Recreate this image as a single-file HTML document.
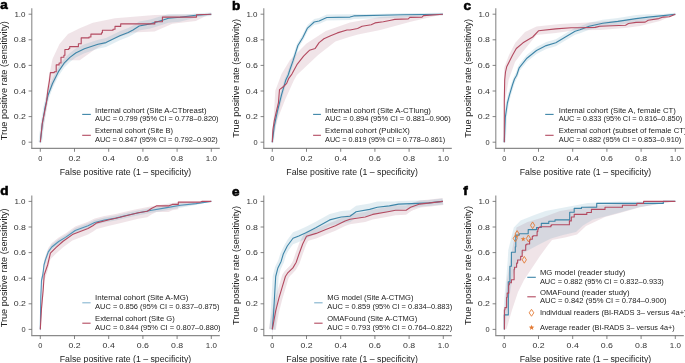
<!DOCTYPE html>
<html><head><meta charset="utf-8"><style>
html,body{margin:0;padding:0;background:#fff;width:685px;height:363px;overflow:hidden}
svg{display:block;will-change:transform}
text{font-family:"Liberation Sans",sans-serif;fill:#222}
.tk{font-size:7.4px;fill:#333}
.al{font-size:9.2px;fill:#222}
.lg{font-size:7.4px;fill:#222}
.pl{font-size:12px;font-weight:bold;fill:#000;stroke:#000;stroke-width:0.55px}
</style></head><body>
<svg width="685" height="363" viewBox="0 0 685 363">
<rect width="685" height="363" fill="#fff"/>
<line x1="31.80" y1="8.20" x2="31.80" y2="148.40" stroke="#8a8a8a" stroke-width="1.1"/>
<line x1="31.25" y1="148.40" x2="219.80" y2="148.40" stroke="#8a8a8a" stroke-width="1.1"/>
<line x1="28.60" y1="142.20" x2="31.80" y2="142.20" stroke="#666" stroke-width="0.8"/>
<text x="25.50" y="144.80" text-anchor="end" class="tk">0</text>
<line x1="40.30" y1="148.40" x2="40.30" y2="151.80" stroke="#666" stroke-width="0.8"/>
<text x="40.30" y="160.60" text-anchor="middle" class="tk">0</text>
<line x1="28.60" y1="116.60" x2="31.80" y2="116.60" stroke="#666" stroke-width="0.8"/>
<text x="26.00" y="119.20" text-anchor="end" class="tk" textLength="12.2" lengthAdjust="spacingAndGlyphs">0.2</text>
<line x1="74.50" y1="148.40" x2="74.50" y2="151.80" stroke="#666" stroke-width="0.8"/>
<text x="74.50" y="160.60" text-anchor="middle" class="tk" textLength="12.2" lengthAdjust="spacingAndGlyphs">0.2</text>
<line x1="28.60" y1="91.00" x2="31.80" y2="91.00" stroke="#666" stroke-width="0.8"/>
<text x="26.00" y="93.60" text-anchor="end" class="tk" textLength="12.2" lengthAdjust="spacingAndGlyphs">0.4</text>
<line x1="108.70" y1="148.40" x2="108.70" y2="151.80" stroke="#666" stroke-width="0.8"/>
<text x="108.70" y="160.60" text-anchor="middle" class="tk" textLength="12.2" lengthAdjust="spacingAndGlyphs">0.4</text>
<line x1="28.60" y1="65.40" x2="31.80" y2="65.40" stroke="#666" stroke-width="0.8"/>
<text x="26.00" y="68.00" text-anchor="end" class="tk" textLength="12.2" lengthAdjust="spacingAndGlyphs">0.6</text>
<line x1="142.90" y1="148.40" x2="142.90" y2="151.80" stroke="#666" stroke-width="0.8"/>
<text x="142.90" y="160.60" text-anchor="middle" class="tk" textLength="12.2" lengthAdjust="spacingAndGlyphs">0.6</text>
<line x1="28.60" y1="39.80" x2="31.80" y2="39.80" stroke="#666" stroke-width="0.8"/>
<text x="26.00" y="42.40" text-anchor="end" class="tk" textLength="12.2" lengthAdjust="spacingAndGlyphs">0.8</text>
<line x1="177.10" y1="148.40" x2="177.10" y2="151.80" stroke="#666" stroke-width="0.8"/>
<text x="177.10" y="160.60" text-anchor="middle" class="tk" textLength="12.2" lengthAdjust="spacingAndGlyphs">0.8</text>
<line x1="28.60" y1="14.20" x2="31.80" y2="14.20" stroke="#666" stroke-width="0.8"/>
<text x="25.50" y="16.80" text-anchor="end" class="tk" textLength="11.1" lengthAdjust="spacingAndGlyphs">1.0</text>
<line x1="211.30" y1="148.40" x2="211.30" y2="151.80" stroke="#666" stroke-width="0.8"/>
<text x="211.30" y="160.60" text-anchor="middle" class="tk" textLength="11.1" lengthAdjust="spacingAndGlyphs">1.0</text>
<text x="125.50" y="174.80" text-anchor="middle" class="al" textLength="131.5" lengthAdjust="spacingAndGlyphs">False positive rate (1 – specificity)</text>
<text transform="translate(6.80,80.65) rotate(-90)" x="0" y="0" text-anchor="middle" class="al" textLength="119" lengthAdjust="spacingAndGlyphs">True positive rate (sensitivity)</text>
<line x1="31.80" y1="195.40" x2="31.80" y2="335.60" stroke="#8a8a8a" stroke-width="1.1"/>
<line x1="31.25" y1="335.60" x2="219.80" y2="335.60" stroke="#8a8a8a" stroke-width="1.1"/>
<line x1="28.60" y1="329.40" x2="31.80" y2="329.40" stroke="#666" stroke-width="0.8"/>
<text x="25.50" y="332.00" text-anchor="end" class="tk">0</text>
<line x1="40.30" y1="335.60" x2="40.30" y2="339.00" stroke="#666" stroke-width="0.8"/>
<text x="40.30" y="347.80" text-anchor="middle" class="tk">0</text>
<line x1="28.60" y1="303.80" x2="31.80" y2="303.80" stroke="#666" stroke-width="0.8"/>
<text x="26.00" y="306.40" text-anchor="end" class="tk" textLength="12.2" lengthAdjust="spacingAndGlyphs">0.2</text>
<line x1="74.50" y1="335.60" x2="74.50" y2="339.00" stroke="#666" stroke-width="0.8"/>
<text x="74.50" y="347.80" text-anchor="middle" class="tk" textLength="12.2" lengthAdjust="spacingAndGlyphs">0.2</text>
<line x1="28.60" y1="278.20" x2="31.80" y2="278.20" stroke="#666" stroke-width="0.8"/>
<text x="26.00" y="280.80" text-anchor="end" class="tk" textLength="12.2" lengthAdjust="spacingAndGlyphs">0.4</text>
<line x1="108.70" y1="335.60" x2="108.70" y2="339.00" stroke="#666" stroke-width="0.8"/>
<text x="108.70" y="347.80" text-anchor="middle" class="tk" textLength="12.2" lengthAdjust="spacingAndGlyphs">0.4</text>
<line x1="28.60" y1="252.60" x2="31.80" y2="252.60" stroke="#666" stroke-width="0.8"/>
<text x="26.00" y="255.20" text-anchor="end" class="tk" textLength="12.2" lengthAdjust="spacingAndGlyphs">0.6</text>
<line x1="142.90" y1="335.60" x2="142.90" y2="339.00" stroke="#666" stroke-width="0.8"/>
<text x="142.90" y="347.80" text-anchor="middle" class="tk" textLength="12.2" lengthAdjust="spacingAndGlyphs">0.6</text>
<line x1="28.60" y1="227.00" x2="31.80" y2="227.00" stroke="#666" stroke-width="0.8"/>
<text x="26.00" y="229.60" text-anchor="end" class="tk" textLength="12.2" lengthAdjust="spacingAndGlyphs">0.8</text>
<line x1="177.10" y1="335.60" x2="177.10" y2="339.00" stroke="#666" stroke-width="0.8"/>
<text x="177.10" y="347.80" text-anchor="middle" class="tk" textLength="12.2" lengthAdjust="spacingAndGlyphs">0.8</text>
<line x1="28.60" y1="201.40" x2="31.80" y2="201.40" stroke="#666" stroke-width="0.8"/>
<text x="25.50" y="204.00" text-anchor="end" class="tk" textLength="11.1" lengthAdjust="spacingAndGlyphs">1.0</text>
<line x1="211.30" y1="335.60" x2="211.30" y2="339.00" stroke="#666" stroke-width="0.8"/>
<text x="211.30" y="347.80" text-anchor="middle" class="tk" textLength="11.1" lengthAdjust="spacingAndGlyphs">1.0</text>
<text x="125.50" y="362.00" text-anchor="middle" class="al" textLength="131.5" lengthAdjust="spacingAndGlyphs">False positive rate (1 – specificity)</text>
<text transform="translate(6.80,267.85) rotate(-90)" x="0" y="0" text-anchor="middle" class="al" textLength="119" lengthAdjust="spacingAndGlyphs">True positive rate (sensitivity)</text>
<line x1="263.80" y1="8.20" x2="263.80" y2="148.40" stroke="#8a8a8a" stroke-width="1.1"/>
<line x1="263.25" y1="148.40" x2="451.80" y2="148.40" stroke="#8a8a8a" stroke-width="1.1"/>
<line x1="260.60" y1="142.20" x2="263.80" y2="142.20" stroke="#666" stroke-width="0.8"/>
<text x="257.50" y="144.80" text-anchor="end" class="tk">0</text>
<line x1="272.30" y1="148.40" x2="272.30" y2="151.80" stroke="#666" stroke-width="0.8"/>
<text x="272.30" y="160.60" text-anchor="middle" class="tk">0</text>
<line x1="260.60" y1="116.60" x2="263.80" y2="116.60" stroke="#666" stroke-width="0.8"/>
<text x="258.00" y="119.20" text-anchor="end" class="tk" textLength="12.2" lengthAdjust="spacingAndGlyphs">0.2</text>
<line x1="306.50" y1="148.40" x2="306.50" y2="151.80" stroke="#666" stroke-width="0.8"/>
<text x="306.50" y="160.60" text-anchor="middle" class="tk" textLength="12.2" lengthAdjust="spacingAndGlyphs">0.2</text>
<line x1="260.60" y1="91.00" x2="263.80" y2="91.00" stroke="#666" stroke-width="0.8"/>
<text x="258.00" y="93.60" text-anchor="end" class="tk" textLength="12.2" lengthAdjust="spacingAndGlyphs">0.4</text>
<line x1="340.70" y1="148.40" x2="340.70" y2="151.80" stroke="#666" stroke-width="0.8"/>
<text x="340.70" y="160.60" text-anchor="middle" class="tk" textLength="12.2" lengthAdjust="spacingAndGlyphs">0.4</text>
<line x1="260.60" y1="65.40" x2="263.80" y2="65.40" stroke="#666" stroke-width="0.8"/>
<text x="258.00" y="68.00" text-anchor="end" class="tk" textLength="12.2" lengthAdjust="spacingAndGlyphs">0.6</text>
<line x1="374.90" y1="148.40" x2="374.90" y2="151.80" stroke="#666" stroke-width="0.8"/>
<text x="374.90" y="160.60" text-anchor="middle" class="tk" textLength="12.2" lengthAdjust="spacingAndGlyphs">0.6</text>
<line x1="260.60" y1="39.80" x2="263.80" y2="39.80" stroke="#666" stroke-width="0.8"/>
<text x="258.00" y="42.40" text-anchor="end" class="tk" textLength="12.2" lengthAdjust="spacingAndGlyphs">0.8</text>
<line x1="409.10" y1="148.40" x2="409.10" y2="151.80" stroke="#666" stroke-width="0.8"/>
<text x="409.10" y="160.60" text-anchor="middle" class="tk" textLength="12.2" lengthAdjust="spacingAndGlyphs">0.8</text>
<line x1="260.60" y1="14.20" x2="263.80" y2="14.20" stroke="#666" stroke-width="0.8"/>
<text x="257.50" y="16.80" text-anchor="end" class="tk" textLength="11.1" lengthAdjust="spacingAndGlyphs">1.0</text>
<line x1="443.30" y1="148.40" x2="443.30" y2="151.80" stroke="#666" stroke-width="0.8"/>
<text x="443.30" y="160.60" text-anchor="middle" class="tk" textLength="11.1" lengthAdjust="spacingAndGlyphs">1.0</text>
<text x="352.05" y="174.80" text-anchor="middle" class="al" textLength="131.5" lengthAdjust="spacingAndGlyphs">False positive rate (1 – specificity)</text>
<text transform="translate(239.00,78.35) rotate(-90)" x="0" y="0" text-anchor="middle" class="al" textLength="119" lengthAdjust="spacingAndGlyphs">True positive rate (sensitivity)</text>
<line x1="263.80" y1="195.40" x2="263.80" y2="335.60" stroke="#8a8a8a" stroke-width="1.1"/>
<line x1="263.25" y1="335.60" x2="451.80" y2="335.60" stroke="#8a8a8a" stroke-width="1.1"/>
<line x1="260.60" y1="329.40" x2="263.80" y2="329.40" stroke="#666" stroke-width="0.8"/>
<text x="257.50" y="332.00" text-anchor="end" class="tk">0</text>
<line x1="272.30" y1="335.60" x2="272.30" y2="339.00" stroke="#666" stroke-width="0.8"/>
<text x="272.30" y="347.80" text-anchor="middle" class="tk">0</text>
<line x1="260.60" y1="303.80" x2="263.80" y2="303.80" stroke="#666" stroke-width="0.8"/>
<text x="258.00" y="306.40" text-anchor="end" class="tk" textLength="12.2" lengthAdjust="spacingAndGlyphs">0.2</text>
<line x1="306.50" y1="335.60" x2="306.50" y2="339.00" stroke="#666" stroke-width="0.8"/>
<text x="306.50" y="347.80" text-anchor="middle" class="tk" textLength="12.2" lengthAdjust="spacingAndGlyphs">0.2</text>
<line x1="260.60" y1="278.20" x2="263.80" y2="278.20" stroke="#666" stroke-width="0.8"/>
<text x="258.00" y="280.80" text-anchor="end" class="tk" textLength="12.2" lengthAdjust="spacingAndGlyphs">0.4</text>
<line x1="340.70" y1="335.60" x2="340.70" y2="339.00" stroke="#666" stroke-width="0.8"/>
<text x="340.70" y="347.80" text-anchor="middle" class="tk" textLength="12.2" lengthAdjust="spacingAndGlyphs">0.4</text>
<line x1="260.60" y1="252.60" x2="263.80" y2="252.60" stroke="#666" stroke-width="0.8"/>
<text x="258.00" y="255.20" text-anchor="end" class="tk" textLength="12.2" lengthAdjust="spacingAndGlyphs">0.6</text>
<line x1="374.90" y1="335.60" x2="374.90" y2="339.00" stroke="#666" stroke-width="0.8"/>
<text x="374.90" y="347.80" text-anchor="middle" class="tk" textLength="12.2" lengthAdjust="spacingAndGlyphs">0.6</text>
<line x1="260.60" y1="227.00" x2="263.80" y2="227.00" stroke="#666" stroke-width="0.8"/>
<text x="258.00" y="229.60" text-anchor="end" class="tk" textLength="12.2" lengthAdjust="spacingAndGlyphs">0.8</text>
<line x1="409.10" y1="335.60" x2="409.10" y2="339.00" stroke="#666" stroke-width="0.8"/>
<text x="409.10" y="347.80" text-anchor="middle" class="tk" textLength="12.2" lengthAdjust="spacingAndGlyphs">0.8</text>
<line x1="260.60" y1="201.40" x2="263.80" y2="201.40" stroke="#666" stroke-width="0.8"/>
<text x="257.50" y="204.00" text-anchor="end" class="tk" textLength="11.1" lengthAdjust="spacingAndGlyphs">1.0</text>
<line x1="443.30" y1="335.60" x2="443.30" y2="339.00" stroke="#666" stroke-width="0.8"/>
<text x="443.30" y="347.80" text-anchor="middle" class="tk" textLength="11.1" lengthAdjust="spacingAndGlyphs">1.0</text>
<text x="352.05" y="362.00" text-anchor="middle" class="al" textLength="131.5" lengthAdjust="spacingAndGlyphs">False positive rate (1 – specificity)</text>
<text transform="translate(239.00,265.55) rotate(-90)" x="0" y="0" text-anchor="middle" class="al" textLength="119" lengthAdjust="spacingAndGlyphs">True positive rate (sensitivity)</text>
<line x1="495.80" y1="8.20" x2="495.80" y2="148.40" stroke="#8a8a8a" stroke-width="1.1"/>
<line x1="495.25" y1="148.40" x2="683.80" y2="148.40" stroke="#8a8a8a" stroke-width="1.1"/>
<line x1="492.60" y1="142.20" x2="495.80" y2="142.20" stroke="#666" stroke-width="0.8"/>
<text x="489.50" y="144.80" text-anchor="end" class="tk">0</text>
<line x1="504.30" y1="148.40" x2="504.30" y2="151.80" stroke="#666" stroke-width="0.8"/>
<text x="504.30" y="160.60" text-anchor="middle" class="tk">0</text>
<line x1="492.60" y1="116.60" x2="495.80" y2="116.60" stroke="#666" stroke-width="0.8"/>
<text x="490.00" y="119.20" text-anchor="end" class="tk" textLength="12.2" lengthAdjust="spacingAndGlyphs">0.2</text>
<line x1="538.50" y1="148.40" x2="538.50" y2="151.80" stroke="#666" stroke-width="0.8"/>
<text x="538.50" y="160.60" text-anchor="middle" class="tk" textLength="12.2" lengthAdjust="spacingAndGlyphs">0.2</text>
<line x1="492.60" y1="91.00" x2="495.80" y2="91.00" stroke="#666" stroke-width="0.8"/>
<text x="490.00" y="93.60" text-anchor="end" class="tk" textLength="12.2" lengthAdjust="spacingAndGlyphs">0.4</text>
<line x1="572.70" y1="148.40" x2="572.70" y2="151.80" stroke="#666" stroke-width="0.8"/>
<text x="572.70" y="160.60" text-anchor="middle" class="tk" textLength="12.2" lengthAdjust="spacingAndGlyphs">0.4</text>
<line x1="492.60" y1="65.40" x2="495.80" y2="65.40" stroke="#666" stroke-width="0.8"/>
<text x="490.00" y="68.00" text-anchor="end" class="tk" textLength="12.2" lengthAdjust="spacingAndGlyphs">0.6</text>
<line x1="606.90" y1="148.40" x2="606.90" y2="151.80" stroke="#666" stroke-width="0.8"/>
<text x="606.90" y="160.60" text-anchor="middle" class="tk" textLength="12.2" lengthAdjust="spacingAndGlyphs">0.6</text>
<line x1="492.60" y1="39.80" x2="495.80" y2="39.80" stroke="#666" stroke-width="0.8"/>
<text x="490.00" y="42.40" text-anchor="end" class="tk" textLength="12.2" lengthAdjust="spacingAndGlyphs">0.8</text>
<line x1="641.10" y1="148.40" x2="641.10" y2="151.80" stroke="#666" stroke-width="0.8"/>
<text x="641.10" y="160.60" text-anchor="middle" class="tk" textLength="12.2" lengthAdjust="spacingAndGlyphs">0.8</text>
<line x1="492.60" y1="14.20" x2="495.80" y2="14.20" stroke="#666" stroke-width="0.8"/>
<text x="489.50" y="16.80" text-anchor="end" class="tk" textLength="11.1" lengthAdjust="spacingAndGlyphs">1.0</text>
<line x1="675.30" y1="148.40" x2="675.30" y2="151.80" stroke="#666" stroke-width="0.8"/>
<text x="675.30" y="160.60" text-anchor="middle" class="tk" textLength="11.1" lengthAdjust="spacingAndGlyphs">1.0</text>
<text x="585.45" y="174.80" text-anchor="middle" class="al" textLength="131.5" lengthAdjust="spacingAndGlyphs">False positive rate (1 – specificity)</text>
<text transform="translate(471.00,78.35) rotate(-90)" x="0" y="0" text-anchor="middle" class="al" textLength="119" lengthAdjust="spacingAndGlyphs">True positive rate (sensitivity)</text>
<line x1="495.80" y1="195.40" x2="495.80" y2="335.60" stroke="#8a8a8a" stroke-width="1.1"/>
<line x1="495.25" y1="335.60" x2="683.80" y2="335.60" stroke="#8a8a8a" stroke-width="1.1"/>
<line x1="492.60" y1="329.40" x2="495.80" y2="329.40" stroke="#666" stroke-width="0.8"/>
<text x="489.50" y="332.00" text-anchor="end" class="tk">0</text>
<line x1="504.30" y1="335.60" x2="504.30" y2="339.00" stroke="#666" stroke-width="0.8"/>
<text x="504.30" y="347.80" text-anchor="middle" class="tk">0</text>
<line x1="492.60" y1="303.80" x2="495.80" y2="303.80" stroke="#666" stroke-width="0.8"/>
<text x="490.00" y="306.40" text-anchor="end" class="tk" textLength="12.2" lengthAdjust="spacingAndGlyphs">0.2</text>
<line x1="538.50" y1="335.60" x2="538.50" y2="339.00" stroke="#666" stroke-width="0.8"/>
<text x="538.50" y="347.80" text-anchor="middle" class="tk" textLength="12.2" lengthAdjust="spacingAndGlyphs">0.2</text>
<line x1="492.60" y1="278.20" x2="495.80" y2="278.20" stroke="#666" stroke-width="0.8"/>
<text x="490.00" y="280.80" text-anchor="end" class="tk" textLength="12.2" lengthAdjust="spacingAndGlyphs">0.4</text>
<line x1="572.70" y1="335.60" x2="572.70" y2="339.00" stroke="#666" stroke-width="0.8"/>
<text x="572.70" y="347.80" text-anchor="middle" class="tk" textLength="12.2" lengthAdjust="spacingAndGlyphs">0.4</text>
<line x1="492.60" y1="252.60" x2="495.80" y2="252.60" stroke="#666" stroke-width="0.8"/>
<text x="490.00" y="255.20" text-anchor="end" class="tk" textLength="12.2" lengthAdjust="spacingAndGlyphs">0.6</text>
<line x1="606.90" y1="335.60" x2="606.90" y2="339.00" stroke="#666" stroke-width="0.8"/>
<text x="606.90" y="347.80" text-anchor="middle" class="tk" textLength="12.2" lengthAdjust="spacingAndGlyphs">0.6</text>
<line x1="492.60" y1="227.00" x2="495.80" y2="227.00" stroke="#666" stroke-width="0.8"/>
<text x="490.00" y="229.60" text-anchor="end" class="tk" textLength="12.2" lengthAdjust="spacingAndGlyphs">0.8</text>
<line x1="641.10" y1="335.60" x2="641.10" y2="339.00" stroke="#666" stroke-width="0.8"/>
<text x="641.10" y="347.80" text-anchor="middle" class="tk" textLength="12.2" lengthAdjust="spacingAndGlyphs">0.8</text>
<line x1="492.60" y1="201.40" x2="495.80" y2="201.40" stroke="#666" stroke-width="0.8"/>
<text x="489.50" y="204.00" text-anchor="end" class="tk" textLength="11.1" lengthAdjust="spacingAndGlyphs">1.0</text>
<line x1="675.30" y1="335.60" x2="675.30" y2="339.00" stroke="#666" stroke-width="0.8"/>
<text x="675.30" y="347.80" text-anchor="middle" class="tk" textLength="11.1" lengthAdjust="spacingAndGlyphs">1.0</text>
<text x="585.45" y="362.00" text-anchor="middle" class="al" textLength="131.5" lengthAdjust="spacingAndGlyphs">False positive rate (1 – specificity)</text>
<text transform="translate(471.00,265.55) rotate(-90)" x="0" y="0" text-anchor="middle" class="al" textLength="119" lengthAdjust="spacingAndGlyphs">True positive rate (sensitivity)</text>
<polygon points="40.3,142.3 43.0,122.0 45.8,98.0 48.5,79.0 52.5,59.0 59.5,44.0 68.0,34.0 79.7,28.2 92.9,22.7 115.0,18.3 154.6,15.0 180.0,14.5 211.3,14.3 211.3,14.3 204.8,16.4 195.8,20.9 172.3,23.8 154.6,31.5 132.6,32.6 112.8,39.3 95.1,49.2 79.7,60.2 68.7,60.2 59.8,70.1 48.8,95.0 44.0,125.0 40.3,142.3" fill="rgba(170,105,128,0.18)" fill-opacity="1.0" stroke="none"/>
<g opacity="0.16">
<polygon points="40.3,137.8 42.3,119.5 45.2,102.2 48.1,90.6 52.5,79.0 58.3,67.4 64.1,58.7 69.9,52.9 75.7,48.5 84.4,44.2 98.0,39.8 106.0,38.1 112.1,35.0 119.8,31.3 128.2,28.1 133.0,25.5 139.2,21.5 150.3,19.4 162.4,15.7 168.5,14.3 180.0,14.3 195.8,14.3 211.3,14.3 211.3,14.3 195.8,17.6 180.0,21.7 168.5,22.8 162.4,24.7 150.3,28.4 139.2,30.5 133.0,34.5 128.2,37.1 119.8,40.3 112.1,44.0 106.0,47.1 98.0,48.8 84.4,53.2 75.7,57.5 69.9,61.9 64.1,67.7 58.3,76.4 52.5,88.0 48.1,99.6 45.2,111.2 42.3,128.5 40.3,146.8" fill="rgb(80,150,180)" fill-opacity="1.0" stroke="none"/>
<polyline points="40.3,142.3 42.3,124.0 45.2,106.7 48.1,95.1 52.5,83.5 58.3,71.9 64.1,63.2 69.9,57.4 75.7,53.0 84.4,48.7 98.0,44.3 106.0,42.6 112.1,39.5 119.8,35.8 128.2,32.6 133.0,30.0 139.2,26.0 150.3,23.9 162.4,20.2 168.5,18.3 180.0,17.2 195.8,15.3 211.3,14.3" fill="none" stroke="rgb(80,150,180)" stroke-width="3.5" stroke-linejoin="round" stroke-linecap="butt"/>
</g>
<polyline points="40.3,142.3 42.3,124.0 45.2,106.7 48.1,95.1 52.5,83.5 58.3,71.9 64.1,63.2 69.9,57.4 75.7,53.0 84.4,48.7 98.0,44.3 106.0,42.6 112.1,39.5 119.8,35.8 128.2,32.6 133.0,30.0 139.2,26.0 150.3,23.9 162.4,20.2 168.5,18.3 180.0,17.2 195.8,15.3 211.3,14.3" fill="none" stroke="#3d85a8" stroke-width="1.1" stroke-linejoin="round"/>
<polyline points="40.3,142.3 42.2,123.7 44.3,113.4 46.4,103.0 47.8,90.7 49.5,80.3 50.4,72.6 54.3,72.6 54.3,71.7 56.2,71.7 56.2,64.9 59.1,64.9 59.1,63.0 61.0,63.0 61.0,57.2 63.9,57.2 63.9,55.3 64.9,55.3 64.9,49.5 68.7,49.5 68.7,48.5 69.7,48.5 69.7,46.6 78.4,46.6 78.4,43.7 81.2,43.7 81.2,37.9 89.0,37.9 89.0,37.0 90.9,37.0 90.9,34.1 101.5,34.1 101.5,32.7 102.4,32.7 102.4,30.2 113.0,30.2 113.0,29.3 115.0,29.3 115.0,26.4 120.7,26.4 120.7,23.9 154.8,23.9 154.8,21.7 162.4,21.7 162.4,17.1 196.5,17.1 196.5,14.8 211.3,14.3" fill="none" stroke="#b34a60" stroke-width="1.1" stroke-linejoin="round"/>
<line x1="82.2" y1="114.40" x2="90.8" y2="114.40" stroke="#3d85a8" stroke-width="1.1"/>
<line x1="82.2" y1="135.30" x2="90.8" y2="135.30" stroke="#b34a60" stroke-width="1.1"/>
<text x="95.00" y="112.80" class="lg" textLength="111.50" lengthAdjust="spacingAndGlyphs">Internal cohort (Site A-CTbreast)</text>
<text x="95.00" y="120.80" class="lg" textLength="123.60" lengthAdjust="spacingAndGlyphs">AUC = 0.799 (95% CI = 0.778–0.820)</text>
<text x="95.00" y="133.20" class="lg" textLength="78.00" lengthAdjust="spacingAndGlyphs">External cohort (Site B)</text>
<text x="95.00" y="141.60" class="lg" textLength="122.80" lengthAdjust="spacingAndGlyphs">AUC = 0.847 (95% CI = 0.792–0.902)</text>
<polygon points="272.3,142.2 273.5,120.0 275.3,90.7 281.5,74.1 290.0,60.0 306.5,43.5 325.8,31.0 350.0,22.4 380.3,17.1 422.7,14.4 442.9,14.3 442.9,14.3 433.3,16.4 410.6,21.7 380.3,30.0 358.0,34.5 350.0,36.8 335.4,41.6 318.1,55.1 296.9,75.0 293.9,80.3 285.0,100.0 277.4,119.6 272.3,142.2" fill="rgba(170,105,128,0.18)" fill-opacity="1.0" stroke="none"/>
<g opacity="0.16">
<polygon points="272.3,139.2 274.3,122.8 277.4,108.3 281.5,91.8 285.7,77.3 288.2,72.0 289.8,67.0 293.0,57.9 297.9,42.5 302.7,34.8 307.5,25.1 314.2,19.0 319.1,18.0 326.8,14.5 350.0,14.3 353.8,14.3 403.0,14.3 442.9,14.3 442.9,14.3 403.0,17.8 353.8,18.9 350.0,20.1 326.8,20.5 319.1,24.0 314.2,25.0 307.5,31.1 302.7,40.8 297.9,48.5 293.0,63.9 289.8,73.0 288.2,78.0 285.7,83.3 281.5,97.8 277.4,114.3 274.3,128.8 272.3,145.2" fill="rgb(80,150,180)" fill-opacity="1.0" stroke="none"/>
<polyline points="272.3,142.2 274.3,125.8 277.4,111.3 281.5,94.8 285.7,80.3 288.2,75.0 289.8,70.0 293.0,60.9 297.9,45.5 302.7,37.8 307.5,28.1 314.2,22.0 319.1,21.0 326.8,17.5 350.0,17.1 353.8,15.9 403.0,14.8 442.9,14.3" fill="none" stroke="rgb(80,150,180)" stroke-width="3" stroke-linejoin="round" stroke-linecap="butt"/>
</g>
<polyline points="272.3,142.2 274.3,125.8 277.4,111.3 281.5,94.8 285.7,80.3 288.2,75.0 289.8,70.0 293.0,60.9 297.9,45.5 302.7,37.8 307.5,28.1 314.2,22.0 319.1,21.0 326.8,17.5 350.0,17.1 353.8,15.9 403.0,14.8 442.9,14.3" fill="none" stroke="#3d85a8" stroke-width="1.1" stroke-linejoin="round"/>
<polyline points="272.3,142.2 272.9,129.9 274.3,120.6 276.4,111.3 278.4,103.0 279.5,89.6 283.6,86.5 286.7,83.4 288.8,78.3 291.9,74.1 296.9,64.7 303.6,56.1 309.4,50.3 315.2,48.4 319.1,42.6 323.9,38.7 330.6,35.8 337.4,32.9 347.0,30.0 350.0,30.0 357.6,28.5 362.1,26.2 371.2,24.7 375.0,22.9 383.3,21.7 390.9,20.2 394.7,19.4 408.3,18.9 409.8,17.4 422.0,17.1 423.5,15.6 442.9,14.3" fill="none" stroke="#b34a60" stroke-width="1.1" stroke-linejoin="round"/>
<line x1="313.1" y1="114.40" x2="320.9" y2="114.40" stroke="#3d85a8" stroke-width="1.1"/>
<line x1="313.1" y1="135.30" x2="320.9" y2="135.30" stroke="#b34a60" stroke-width="1.1"/>
<text x="325.10" y="112.80" class="lg" textLength="105.80" lengthAdjust="spacingAndGlyphs">Internal cohort (Site A-CTlung)</text>
<text x="325.10" y="120.80" class="lg" textLength="125.70" lengthAdjust="spacingAndGlyphs">AUC = 0.894 (95% CI = 0.881–0.906)</text>
<text x="325.10" y="133.20" class="lg" textLength="84.70" lengthAdjust="spacingAndGlyphs">External cohort (PublicX)</text>
<text x="325.10" y="141.60" class="lg" textLength="120.10" lengthAdjust="spacingAndGlyphs">AUC = 0.819 (95% CI = 0.778–0.861)</text>
<polygon points="504.3,142.2 503.8,100.0 504.2,67.8 509.0,55.0 515.3,42.8 525.0,32.0 536.5,26.4 560.0,24.0 588.0,22.5 640.0,19.0 675.3,14.3 675.3,14.3 660.0,21.0 640.0,26.0 625.0,28.0 600.0,30.0 575.1,30.2 555.8,33.1 536.5,35.0 523.0,51.4 515.0,62.0 508.6,80.0 505.3,100.0 504.3,142.2" fill="rgba(170,105,128,0.18)" fill-opacity="1.0" stroke="none"/>
<g opacity="0.16">
<polygon points="504.3,138.7 505.3,114.0 507.4,99.5 509.5,91.3 512.6,81.0 514.5,75.5 516.7,71.7 519.2,64.3 526.9,54.7 536.5,47.0 546.2,42.1 555.8,39.3 565.4,33.5 575.1,27.7 580.0,26.3 589.1,22.7 602.7,19.7 617.9,17.9 636.1,15.1 648.2,14.3 663.3,14.3 675.3,14.3 675.3,14.3 663.3,17.0 648.2,20.3 636.1,22.1 617.9,24.9 602.7,26.7 589.1,29.7 580.0,33.3 575.1,34.7 565.4,40.5 555.8,46.3 546.2,49.1 536.5,54.0 526.9,61.7 519.2,71.3 516.7,78.7 514.5,82.5 512.6,88.0 509.5,98.3 507.4,106.5 505.3,121.0 504.3,145.7" fill="rgb(80,150,180)" fill-opacity="1.0" stroke="none"/>
<polyline points="504.3,142.2 505.3,117.5 507.4,103.0 509.5,94.8 512.6,84.5 514.5,79.0 516.7,75.2 519.2,67.8 526.9,58.2 536.5,50.5 546.2,45.6 555.8,42.8 565.4,37.0 575.1,31.2 580.0,29.8 589.1,26.2 602.7,23.2 617.9,21.4 636.1,18.6 648.2,17.1 663.3,15.6 675.3,14.3" fill="none" stroke="rgb(80,150,180)" stroke-width="3" stroke-linejoin="round" stroke-linecap="butt"/>
</g>
<polyline points="504.3,142.2 505.3,117.5 507.4,103.0 509.5,94.8 512.6,84.5 514.5,79.0 516.7,75.2 519.2,67.8 526.9,58.2 536.5,50.5 546.2,45.6 555.8,42.8 565.4,37.0 575.1,31.2 580.0,29.8 589.1,26.2 602.7,23.2 617.9,21.4 636.1,18.6 648.2,17.1 663.3,15.6 675.3,14.3" fill="none" stroke="#3d85a8" stroke-width="1.1" stroke-linejoin="round"/>
<polyline points="504.3,142.2 504.3,101.0 504.7,80.0 505.5,72.0 506.7,66.8 509.6,61.1 512.5,55.3 516.3,48.5 523.0,42.8 532.7,37.0 538.5,30.8 555.8,28.9 571.2,27.7 580.0,27.7 595.2,27.4 599.7,26.2 625.5,25.2 628.5,23.5 636.1,22.4 645.2,22.1 648.2,20.2 658.8,18.6 663.3,17.1 669.4,16.8 675.3,14.3" fill="none" stroke="#b34a60" stroke-width="1.1" stroke-linejoin="round"/>
<line x1="545.2" y1="114.40" x2="553.6" y2="114.40" stroke="#3d85a8" stroke-width="1.1"/>
<line x1="545.2" y1="135.30" x2="553.6" y2="135.30" stroke="#b34a60" stroke-width="1.1"/>
<text x="558.80" y="112.80" class="lg" textLength="117.00" lengthAdjust="spacingAndGlyphs">Internal cohort (Site A, female CT)</text>
<text x="558.80" y="120.80" class="lg" textLength="123.50" lengthAdjust="spacingAndGlyphs">AUC = 0.833 (95% CI = 0.816–0.850)</text>
<text x="558.80" y="133.20" class="lg" textLength="127.80" lengthAdjust="spacingAndGlyphs">External cohort (subset of female CT)</text>
<text x="558.80" y="141.60" class="lg" textLength="122.50" lengthAdjust="spacingAndGlyphs">AUC = 0.882 (95% CI = 0.853–0.910)</text>
<polygon points="40.3,325.4 40.8,292.7 41.5,276.4 42.8,271.0 44.0,261.0 45.6,255.4 48.3,247.9 51.8,243.0 58.7,237.5 65.5,233.4 75.2,226.5 88.0,221.7 94.7,218.5 104.4,216.0 115.9,214.1 125.0,211.8 135.2,209.5 150.3,206.5 165.5,203.9 180.6,202.1 195.8,202.0 211.3,201.4 211.3,201.4 201.8,202.8 200.3,203.8 178.3,207.0 178.3,209.3 172.3,210.2 168.5,211.9 156.4,211.9 151.8,214.2 147.3,217.2 138.2,218.7 129.1,221.0 120.0,223.3 108.2,226.0 96.7,228.9 92.8,231.8 88.0,234.4 72.4,240.6 62.8,247.5 55.9,253.7 50.4,259.2 47.6,271.0 44.2,281.0 43.2,295.7 41.5,314.4 40.3,335.4" fill="rgba(170,105,128,0.18)" fill-opacity="1.0" stroke="none"/>
<g opacity="0.16">
<polygon points="40.3,326.9 40.8,294.2 41.5,277.9 42.8,272.5 44.0,262.5 45.6,256.9 48.3,249.4 51.8,244.5 58.7,239.0 65.5,234.9 75.2,228.0 88.0,223.2 94.7,220.0 104.4,217.5 115.9,215.6 125.0,213.3 135.2,211.0 150.3,208.0 165.5,205.4 180.6,202.7 195.8,202.3 211.3,201.4 211.3,201.4 195.8,204.9 180.6,207.7 165.5,210.4 150.3,213.0 135.2,216.0 125.0,218.3 115.9,220.6 104.4,222.5 94.7,225.0 88.0,228.2 75.2,233.0 65.5,239.9 58.7,244.0 51.8,249.5 48.3,254.4 45.6,261.9 44.0,267.5 42.8,277.5 41.5,282.9 40.8,299.2 40.3,331.9" fill="rgb(80,150,180)" fill-opacity="1.0" stroke="none"/>
</g>
<polyline points="40.3,329.4 40.8,296.7 41.5,280.4 42.8,275.0 44.0,265.0 45.6,259.4 48.3,251.9 51.8,247.0 58.7,241.5 65.5,237.4 75.2,230.5 88.0,225.7 94.7,222.5 104.4,220.0 115.9,218.1 125.0,215.8 135.2,213.5 150.3,210.5 165.5,207.9 180.6,205.2 195.8,203.6 211.3,201.4" fill="none" stroke="#4f93b8" stroke-width="1.1" stroke-linejoin="round"/>
<polyline points="40.3,329.4 41.5,308.4 43.2,289.7 44.2,275.0 47.6,265.0 50.4,253.2 55.9,247.7 62.8,241.5 72.4,234.6 88.0,228.4 92.8,225.8 96.7,222.9 108.2,220.0 120.0,217.3 129.1,215.0 138.2,212.7 147.3,211.2 151.8,208.2 156.4,205.9 168.5,205.9 172.3,204.4 178.3,204.4 178.3,202.1 200.3,202.1 201.8,201.4 211.3,201.4" fill="none" stroke="#b34a60" stroke-width="1.1" stroke-linejoin="round"/>
<line x1="82.3" y1="302.80" x2="90.6" y2="302.80" stroke="#86b6d0" stroke-width="1.1"/>
<line x1="82.3" y1="323.20" x2="90.6" y2="323.20" stroke="#b34a60" stroke-width="1.1"/>
<text x="95.10" y="300.20" class="lg" textLength="93.30" lengthAdjust="spacingAndGlyphs">Internal cohort (Site A-MG)</text>
<text x="95.10" y="308.90" class="lg" textLength="124.30" lengthAdjust="spacingAndGlyphs">AUC = 0.856 (95% CI = 0.837–0.875)</text>
<text x="95.10" y="320.70" class="lg" textLength="79.70" lengthAdjust="spacingAndGlyphs">External cohort (Site G)</text>
<text x="95.10" y="329.60" class="lg" textLength="125.50" lengthAdjust="spacingAndGlyphs">AUC = 0.844 (95% CI = 0.807–0.880)</text>
<g opacity="0.18">
<polygon points="272.3,324.4 275.7,305.8 279.0,292.9 282.2,282.2 285.4,271.5 287.5,268.2 292.9,262.9 296.1,257.5 299.0,249.0 302.7,239.0 306.5,231.3 316.2,228.4 325.8,224.6 335.4,220.7 345.1,215.9 350.0,214.3 365.2,212.0 372.7,209.4 387.9,206.7 395.5,205.2 406.1,205.6 410.6,203.2 419.7,201.4 430.3,201.4 442.9,201.4 442.9,201.4 430.3,204.5 419.7,207.0 410.6,211.2 406.1,214.8 395.5,215.2 387.9,216.7 372.7,219.4 365.2,222.0 350.0,224.3 345.1,225.9 335.4,230.7 325.8,234.6 316.2,238.4 306.5,241.3 302.7,249.0 299.0,259.0 296.1,267.5 292.9,272.9 287.5,278.2 285.4,281.5 282.2,292.2 279.0,302.9 275.7,315.8 272.3,334.4" fill="rgb(170,105,128)" fill-opacity="1.0" stroke="none"/>
<polyline points="272.3,329.4 275.7,310.8 279.0,297.9 282.2,287.2 285.4,276.5 287.5,273.2 292.9,267.9 296.1,262.5 299.0,254.0 302.7,244.0 306.5,236.3 316.2,233.4 325.8,229.6 335.4,225.7 345.1,220.9 350.0,219.3 365.2,217.0 372.7,214.4 387.9,211.7 395.5,210.2 406.1,210.2 410.6,207.2 419.7,204.1 430.3,202.9 442.9,201.4" fill="none" stroke="rgb(170,105,128)" stroke-width="7" stroke-linejoin="round" stroke-linecap="butt"/>
</g>
<g opacity="0.16">
<polygon points="272.3,323.4 273.6,306.9 274.7,287.6 275.7,270.5 277.9,261.9 281.1,255.4 283.3,248.0 287.3,240.0 293.0,232.2 298.8,229.9 306.5,226.5 316.2,221.6 329.7,213.9 341.2,211.0 350.0,210.2 356.1,205.7 369.7,203.4 377.3,201.4 389.4,201.4 398.5,201.4 418.2,201.4 428.8,201.4 442.9,201.4 442.9,201.4 428.8,205.0 418.2,207.1 398.5,210.1 389.4,211.9 377.3,213.2 369.7,215.4 356.1,217.7 350.0,222.2 341.2,223.0 329.7,225.9 316.2,233.6 306.5,238.5 298.8,241.9 293.0,244.2 287.3,252.0 283.3,260.0 281.1,267.4 277.9,273.9 275.7,282.5 274.7,299.6 273.6,318.9 272.3,335.4" fill="rgb(80,150,180)" fill-opacity="1.0" stroke="none"/>
<polyline points="272.3,329.4 273.6,312.9 274.7,293.6 275.7,276.5 277.9,267.9 281.1,261.4 283.3,254.0 287.3,246.0 293.0,238.2 298.8,235.9 306.5,232.5 316.2,227.6 329.7,219.9 341.2,217.0 350.0,216.2 356.1,211.7 369.7,209.4 377.3,207.2 389.4,205.9 398.5,204.1 418.2,203.4 428.8,202.9 442.9,201.4" fill="none" stroke="rgb(80,150,180)" stroke-width="6" stroke-linejoin="round" stroke-linecap="butt"/>
</g>
<polyline points="272.3,329.4 273.6,312.9 274.7,293.6 275.7,276.5 277.9,267.9 281.1,261.4 283.3,254.0 287.3,246.0 293.0,238.2 298.8,235.9 306.5,232.5 316.2,227.6 329.7,219.9 341.2,217.0 350.0,216.2 356.1,211.7 369.7,209.4 377.3,207.2 389.4,205.9 398.5,204.1 418.2,203.4 428.8,202.9 442.9,201.4" fill="none" stroke="#3d85a8" stroke-width="1.1" stroke-linejoin="round"/>
<polyline points="272.3,329.4 275.7,310.8 279.0,297.9 282.2,287.2 285.4,276.5 287.5,273.2 292.9,267.9 296.1,262.5 299.0,254.0 302.7,244.0 306.5,236.3 316.2,233.4 325.8,229.6 335.4,225.7 345.1,220.9 350.0,219.3 365.2,217.0 372.7,214.4 387.9,211.7 395.5,210.2 406.1,210.2 410.6,207.2 419.7,204.1 430.3,202.9 442.9,201.4" fill="none" stroke="#b34a60" stroke-width="1.1" stroke-linejoin="round"/>
<line x1="314.2" y1="302.80" x2="322.6" y2="302.80" stroke="#7fb1cc" stroke-width="1.1"/>
<line x1="314.2" y1="323.20" x2="322.6" y2="323.20" stroke="#b34a60" stroke-width="1.1"/>
<text x="327.20" y="300.20" class="lg" textLength="86.20" lengthAdjust="spacingAndGlyphs">MG model (Site A-CTMG)</text>
<text x="327.20" y="308.90" class="lg" textLength="125.00" lengthAdjust="spacingAndGlyphs">AUC = 0.859 (95% CI = 0.834–0.883)</text>
<text x="327.20" y="320.70" class="lg" textLength="90.00" lengthAdjust="spacingAndGlyphs">OMAFound (Site A-CTMG)</text>
<text x="327.20" y="329.60" class="lg" textLength="125.00" lengthAdjust="spacingAndGlyphs">AUC = 0.793 (95% CI = 0.764–0.822)</text>
<polygon points="504.3,329.4 505.0,305.0 507.0,280.0 510.0,262.0 513.0,245.0 516.5,227.5 527.5,222.0 541.3,217.9 560.0,211.0 590.0,206.0 620.0,204.0 675.3,201.4 675.3,201.4 671.0,201.8 640.0,207.2 620.0,213.0 605.0,217.0 586.0,226.0 577.0,234.5 565.0,237.5 552.0,240.0 548.0,245.0 540.0,256.0 532.0,268.0 524.0,280.0 518.0,292.0 512.0,310.0 506.5,329.0 504.3,329.4" fill="rgba(170,105,128,0.18)" fill-opacity="1.0" stroke="none"/>
<polygon points="504.3,329.4 503.5,310.0 505.0,290.0 506.5,275.0 507.6,262.0 508.3,250.0 513.8,227.5 520.6,220.6 534.4,215.1 545.4,211.0 560.0,208.3 588.0,203.0 620.0,201.6 675.3,201.4 675.3,201.4 640.0,207.0 605.0,216.5 593.0,219.5 583.0,225.6 576.0,232.0 563.0,235.0 551.0,238.5 540.0,244.0 525.0,252.0 522.0,254.0 513.1,275.0 507.9,305.4 504.3,329.4" fill="rgba(80,150,180,0.16)" fill-opacity="1.0" stroke="none"/>
<polyline points="504.3,329.4 504.3,320.0 504.3,314.9 505.8,314.9 508.3,314.9 508.3,281.7 509.9,281.7 509.9,266.2 511.4,266.2 511.4,252.2 515.3,252.2 515.3,246.7 515.8,246.7 515.8,235.1 519.3,235.1 519.3,233.7 528.2,233.7 528.2,229.6 536.5,229.6 536.5,227.5 541.3,227.5 541.3,223.4 548.8,223.4 548.8,221.3 555.0,221.3 555.0,219.9 569.7,219.9 569.7,212.2 574.2,212.2 574.2,208.4 581.5,208.4 581.5,207.2 596.7,207.2 596.7,203.4 643.6,203.4 663.3,203.4 663.3,201.8 663.3,201.4 675.3,201.4" fill="none" stroke="#3d85a8" stroke-width="1.1" stroke-linejoin="round"/>
<polyline points="504.4,329.4 504.4,309.7 504.9,309.7 504.9,307.6 506.6,307.6 506.6,297.3 507.2,297.3 507.2,293.1 508.7,293.1 508.7,284.8 509.3,284.8 509.3,282.8 511.4,282.8 511.4,279.7 514.1,279.7 514.1,269.3 514.5,269.3 514.5,267.2 516.6,267.2 516.6,263.1 517.6,263.1 517.6,260.0 520.7,260.0 520.7,256.4 521.4,256.4 522.2,256.4 522.2,250.9 522.2,250.2 525.7,250.2 525.7,244.7 526.8,244.7 526.8,244.0 529.6,244.0 529.6,239.9 530.3,239.9 530.3,239.2 532.3,239.2 532.3,236.5 533.0,236.5 533.0,235.8 537.1,235.8 537.1,231.6 537.8,231.6 537.8,228.9 538.5,228.9 538.5,227.5 539.9,227.5 539.9,226.8 550.9,226.8 550.9,225.4 551.6,225.4 551.6,224.8 569.4,224.8 569.4,220.9 571.3,220.9 571.3,217.0 574.2,217.0 574.2,214.4 575.1,214.4 586.8,214.4 586.8,212.5 591.4,212.5 591.4,209.4 605.0,209.4 605.0,207.2 622.4,207.2 622.4,205.3 636.8,205.3 636.8,203.4 643.6,203.4 643.6,201.8 643.6,201.4 675.3,201.4" fill="none" stroke="#b34a60" stroke-width="1.1" stroke-linejoin="round"/>
<polygon points="532.6,221.90 534.70,225.3 532.6,228.70 530.50,225.3" fill="none" stroke="#e37b35" stroke-width="0.9"/>
<polygon points="517.1,230.60 519.20,234 517.1,237.40 515.00,234" fill="none" stroke="#e37b35" stroke-width="0.9"/>
<polygon points="515.3,235.00 517.40,238.4 515.3,241.80 513.20,238.4" fill="none" stroke="#e37b35" stroke-width="0.9"/>
<polygon points="528.4,235.00 530.50,238.4 528.4,241.80 526.30,238.4" fill="none" stroke="#e37b35" stroke-width="0.9"/>
<polygon points="524.3,256.40 526.40,259.8 524.3,263.20 522.20,259.8" fill="none" stroke="#e37b35" stroke-width="0.9"/>
<polygon points="523.2,236.5 523.8,238.2 525.7,238.3 524.2,239.4 524.7,241.2 523.2,240.2 521.7,241.2 522.2,239.4 520.7,238.3 522.6,238.2" fill="#e37b35"/>
<line x1="527.3" y1="277.3" x2="535.8" y2="277.3" stroke="#3d85a8" stroke-width="1.1"/>
<line x1="527.3" y1="296.8" x2="535.8" y2="296.8" stroke="#b34a60" stroke-width="1.1"/>
<text x="539.90" y="275.40" class="lg" textLength="85.40" lengthAdjust="spacingAndGlyphs">MG model (reader study)</text>
<text x="539.90" y="284.20" class="lg" textLength="123.90" lengthAdjust="spacingAndGlyphs">AUC = 0.882 (95% CI = 0.832–0.933)</text>
<text x="539.90" y="294.60" class="lg" textLength="89.60" lengthAdjust="spacingAndGlyphs">OMAFound (reader study)</text>
<text x="539.90" y="303.20" class="lg" textLength="126.60" lengthAdjust="spacingAndGlyphs">AUC = 0.842 (95% CI = 0.784–0.900)</text>
<text x="539.90" y="314.60" class="lg" textLength="146.70" lengthAdjust="spacingAndGlyphs">Individual readers (BI-RADS 3– versus 4a+)</text>
<text x="539.90" y="329.70" class="lg" textLength="134.90" lengthAdjust="spacingAndGlyphs">Average reader (BI-RADS 3– versus 4a+)</text>
<polygon points="531.5,309.35 533.80,312.8 531.5,316.25 529.20,312.8" fill="none" stroke="#e37b35" stroke-width="0.9"/>
<polygon points="531.6,324.7 532.3,326.6 534.4,326.7 532.8,328.0 533.3,329.9 531.6,328.8 529.9,329.9 530.4,328.0 528.8,326.7 530.9,326.6" fill="#e37b35"/>
<text transform="translate(0.3,9.0) scale(1.13,1)" x="0" y="0" class="pl">a</text>
<text transform="translate(231.9,9.6) scale(1.13,1)" x="0" y="0" class="pl">b</text>
<text transform="translate(463.4,9.6) scale(1.13,1)" x="0" y="0" class="pl">c</text>
<text transform="translate(0.3,195.2) scale(1.13,1)" x="0" y="0" class="pl">d</text>
<text transform="translate(232,195.6) scale(1.13,1)" x="0" y="0" class="pl">e</text>
<text transform="translate(463.2,195.2) scale(1.13,1)" x="0" y="0" class="pl">f</text>
</svg>
</body></html>
